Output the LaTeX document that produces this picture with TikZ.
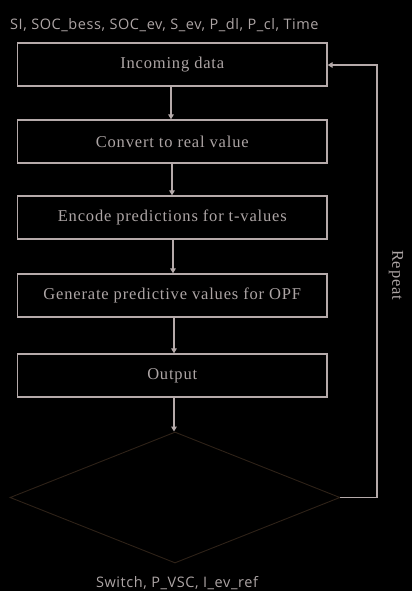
\documentclass[tikz,border=0pt]{standalone}
\usepackage{fontspec}
\setmainfont{Liberation Serif}[LetterSpace=5]
\newfontfamily\labelfont{Open Sans}[LetterSpace=4]
\usetikzlibrary{arrows.meta,shapes.geometric}
\definecolor{linec}{HTML}{B5AAAA}
\definecolor{textc}{HTML}{ADA5A5}
\definecolor{diac}{HTML}{2E2218}
\begin{document}
\begin{tikzpicture}[x=1pt,y=-1pt,
  stepbox/.style={draw=linec,line width=1.3pt,minimum width=309.5pt,minimum height=43pt,inner sep=0pt,text=textc,font=\fontsize{16.5}{18}\selectfont},
  flow/.style={draw=linec,line width=1.3pt,-{Triangle[width=5.5pt,length=5pt]}},
  iotext/.style={text=textc,font=\labelfont\fontsize{14.5}{16}\selectfont,inner sep=0pt}]
\fill[black] (0,0) rectangle (412,591);
\useasboundingbox (0,0) rectangle (412,591);
\node[stepbox] (b1) at (172.25,64.5) {Incoming data};
\node[stepbox] (b2) at (172.25,141.5) {Convert to real value};
\node[stepbox] (b3) at (172.25,217.5) {Encode predictions for t-values};
\node[stepbox] (b4) at (172.25,295.5) {Generate predictive values for OPF};
\node[stepbox] (b5) at (172.25,375.5) {Output};
\node[draw=diac,line width=0.9pt,diamond,minimum width=330pt,minimum height=131pt,inner sep=0pt,aspect=2.5,shape aspect=2.5] (d) at (175,497.5) {};
\node[iotext,anchor=base west] (in) at (10,30) {SI, SOC\_bess, SOC\_ev, S\_ev, P\_dl, P\_cl, Time};
\node[iotext,anchor=base] (out) at (177,587) {Switch, P\_VSC, I\_ev\_ref};
\draw[flow] (b1.south -| 171,0) -- (b2.north -| 171,0);
\draw[flow] (b2.south -| 172,0) -- (b3.north -| 172,0);
\draw[flow] (b3.south -| 173,0) -- (b4.north -| 173,0);
\draw[flow] (b4.south -| 174,0) -- (b5.north -| 174,0);
\draw[flow] (b5.south -| 174,0) -- (d.north -| 174,0);
\coordinate (c1) at (377,497.5);
\coordinate (c2) at (377,65);
\draw[flow] (d.east) -- (c1) -- (c2) -- (b1.east |- c2);
\node[text=textc,rotate=-90,font=\fontsize{16.5}{18}\selectfont,inner sep=0pt] (rep) at (396,275) {Repeat};
\end{tikzpicture}
\end{document}
